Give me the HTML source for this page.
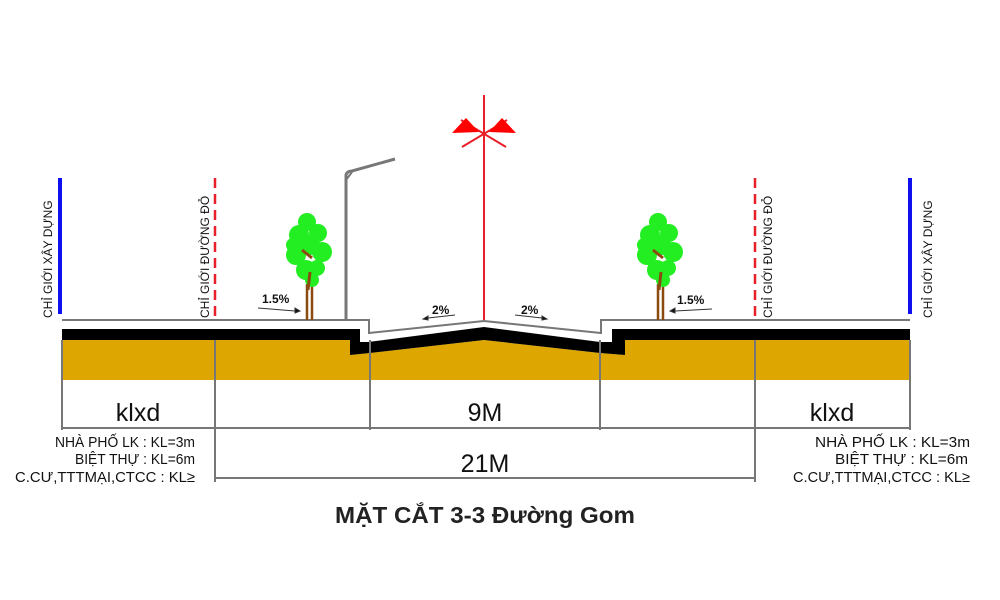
<!DOCTYPE html>
<html><head><meta charset="utf-8"><style>
html,body{margin:0;padding:0;background:#fff;}
svg{display:block;}
</style></head><body>
<svg width="1000" height="600" viewBox="0 0 1000 600" xmlns="http://www.w3.org/2000/svg" font-family="Liberation Sans, DejaVu Sans, sans-serif">
<rect width="1000" height="600" fill="#fff"/>
<polygon points="62,340 350,340 350,355 370,353 484,340 600,353 625,355 625,340 910,340 910,380 62,380" fill="#dda600"/>
<polygon points="62,329 360,329 360,342 368,342 484,327 600,342 612,342 612,329 910,329 910,340 625,340 625,355 600,353 484,340 370,353 350,355 350,340 62,340" fill="#000"/>
<polyline points="62,320 369,320 369,333 484,321 601,333 601,320 910,320" fill="none" stroke="#777" stroke-width="2"/>
<line x1="60" y1="178" x2="60" y2="314" stroke="#1010ee" stroke-width="4"/>
<line x1="910" y1="178" x2="910" y2="314" stroke="#1010ee" stroke-width="4"/>
<line x1="215" y1="178" x2="215" y2="320" stroke="#e8202a" stroke-width="2.5" stroke-dasharray="10,6"/>
<line x1="755" y1="178" x2="755" y2="320" stroke="#e8202a" stroke-width="2.5" stroke-dasharray="10,6"/>
<g font-size="12" fill="#111">
<text transform="translate(52,318) rotate(-90)">CHỈ GIỚI XÂY DỰNG</text>
<text transform="translate(209,318) rotate(-90)">CHỈ GIỚI ĐƯỜNG ĐỎ</text>
<text transform="translate(772,318) rotate(-90)">CHỈ GIỚI ĐƯỜNG ĐỎ</text>
<text transform="translate(932,318) rotate(-90)">CHỈ GIỚI XÂY DỰNG</text>
</g>
<line x1="484" y1="95" x2="484" y2="320" stroke="#e8202a" stroke-width="2"/>
<line x1="462" y1="147" x2="507" y2="120" stroke="#e8202a" stroke-width="2"/>
<line x1="506" y1="147" x2="461" y2="120" stroke="#e8202a" stroke-width="2"/>
<polygon points="452,133 466,118 479,132" fill="#f00"/>
<polygon points="516,133 502,118 489,132" fill="#f00"/>
<path d="M346,320 L346,175 Q347,171 352,171 L395,159" fill="none" stroke="#777" stroke-width="3"/>
<path d="M346,180 L352,172" stroke="#777" stroke-width="2"/>
<g id="tree">
<line x1="307" y1="320" x2="307" y2="284" stroke="#8a4a10" stroke-width="2.5"/>
<line x1="312" y1="320" x2="312" y2="284" stroke="#8a4a10" stroke-width="2.5"/>
<g fill="#22ee22">
<circle cx="307" cy="222" r="9"/><circle cx="299" cy="235" r="10"/><circle cx="318" cy="233" r="9"/>
<circle cx="296" cy="255" r="10"/><circle cx="322" cy="252" r="10"/><circle cx="306" cy="270" r="10"/>
<circle cx="310" cy="245" r="10"/><circle cx="293" cy="245" r="7"/><circle cx="317" cy="268" r="8"/>
<circle cx="312" cy="280" r="7"/>
</g>
<path d="M302,250 L312,258 M308,290 L310,272" stroke="#8a4a10" stroke-width="3"/>
</g>
<use href="#tree" transform="translate(351,0)"/>
<g font-size="12" font-weight="bold" fill="#111">
<text x="262" y="303">1.5%</text>
<text x="677" y="304">1.5%</text>
<text x="432" y="314">2%</text>
<text x="521" y="314">2%</text>
</g>
<g stroke="#333" stroke-width="1" fill="#111">
<line x1="258" y1="308" x2="295" y2="311"/><polygon points="295,308 300,311 295,313"/>
<line x1="675" y1="311" x2="712" y2="309"/><polygon points="675,308 670,311 675,313"/>
<line x1="428" y1="318" x2="455" y2="315"/><polygon points="428,316 423,319 428,320"/>
<line x1="515" y1="315" x2="542" y2="318"/><polygon points="542,316 547,319 542,320"/>
</g>
<g stroke="#777" stroke-width="2">
<line x1="62" y1="340" x2="62" y2="430"/>
<line x1="215" y1="340" x2="215" y2="482"/>
<line x1="370" y1="340" x2="370" y2="430"/>
<line x1="600" y1="340" x2="600" y2="430"/>
<line x1="755" y1="340" x2="755" y2="482"/>
<line x1="910" y1="340" x2="910" y2="430"/>
<line x1="62" y1="428" x2="910" y2="428"/>
<line x1="215" y1="478" x2="755" y2="478"/>
</g>
<g font-size="25" fill="#111" text-anchor="middle">
<text x="138" y="421">klxd</text>
<text x="485" y="421">9M</text>
<text x="832" y="421">klxd</text>
<text x="485" y="472">21M</text>
</g>
<g font-size="15" fill="#111" text-anchor="end">
<text x="195" y="447" textLength="140" lengthAdjust="spacingAndGlyphs">NHÀ PHỐ LK : KL=3m</text>
<text x="195" y="464" textLength="120" lengthAdjust="spacingAndGlyphs">BIỆT THỰ : KL=6m</text>
<text x="195" y="482" textLength="180" lengthAdjust="spacingAndGlyphs">C.CƯ,TTTMẠI,CTCC : KL≥</text>
<text x="970" y="447" textLength="155" lengthAdjust="spacingAndGlyphs">NHÀ PHỐ LK : KL=3m</text>
<text x="968" y="464" textLength="133" lengthAdjust="spacingAndGlyphs">BIỆT THỰ : KL=6m</text>
<text x="970" y="482" textLength="177" lengthAdjust="spacingAndGlyphs">C.CƯ,TTTMẠI,CTCC : KL≥</text>
</g>
<text x="335" y="523" font-size="23" font-weight="bold" fill="#222" textLength="300" lengthAdjust="spacingAndGlyphs">MẶT CẮT 3-3 Đường Gom</text>
</svg>
</body></html>
